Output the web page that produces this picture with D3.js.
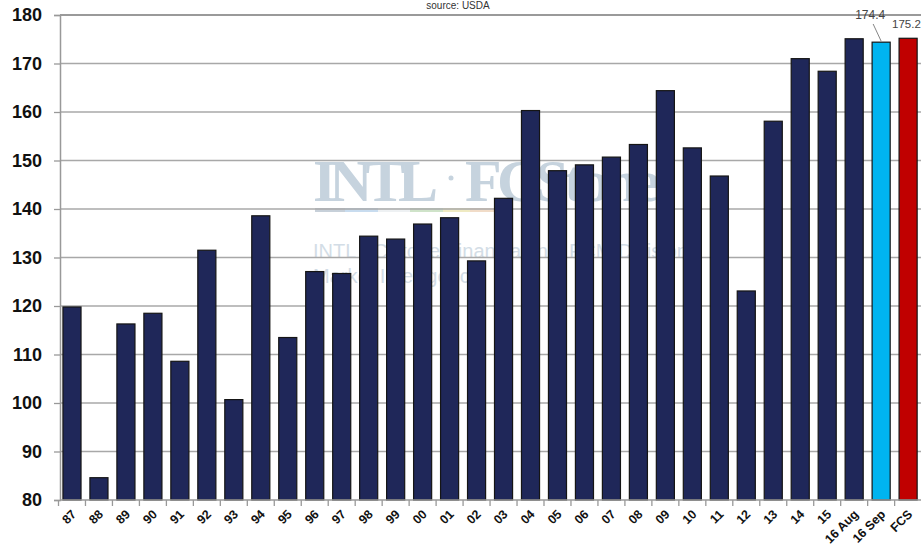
<!DOCTYPE html>
<html><head><meta charset="utf-8">
<script src="https://cdn.jsdelivr.net/npm/d3@7"></script>
<style>html,body{margin:0;padding:0;background:#fff;overflow:hidden}svg{display:block}</style>
</head><body>
<svg id="c" width="921" height="555"></svg>
<script>
const categories = ["87","88","89","90","91","92","93","94","95","96","97","98","99","00","01","02","03","04","05","06","07","08","09","10","11","12","13","14","15","16 Aug","16 Sep","FCS"];
const yields = [119.8,84.6,116.3,118.5,108.6,131.5,100.7,138.6,113.5,127.1,126.7,134.4,133.8,136.9,138.2,129.3,142.2,160.3,147.9,149.1,150.7,153.3,164.4,152.6,146.8,123.1,158.1,171.0,168.4,175.1,174.4,175.2];
const barColors = ["navy","navy","navy","navy","navy","navy","navy","navy","navy","navy","navy","navy","navy","navy","navy","navy","navy","navy","navy","navy","navy","navy","navy","navy","navy","navy","navy","navy","navy","navy","sky","red"];
const labelled = ["16 Sep","FCS"];
const yTicks = [80,90,100,110,120,130,140,150,160,170,180];

const colorMap = {navy:"#1f2759", sky:"#00b4f0", red:"#c00000"};
const svg = d3.select("#c");
const x = d3.scaleBand().domain(categories).range([58.5, 921.6]).paddingInner(0.33).paddingOuter(0.165);
const y = d3.scaleLinear().domain([80,180]).range([500,15]);

// title
svg.append("text").attr("x",458).attr("y",9).attr("text-anchor","middle")
  .attr("font-family","Liberation Sans, Arial, sans-serif").attr("font-size",10).attr("fill","#333").text("source: USDA");

// watermark
const wm = svg.append("g").attr("fill","#c6d3de");
wm.append("text").attr("x",313).attr("y",201).attr("font-family","Liberation Serif, Times New Roman, serif")
  .attr("font-size",60).attr("font-weight","bold").attr("textLength",125).text("INTL");
wm.append("circle").attr("cx",451).attr("cy",178).attr("r",2.5);
wm.append("text").attr("x",465).attr("y",201).attr("font-family","Liberation Serif, Times New Roman, serif")
  .attr("font-size",60).attr("font-weight","bold").attr("textLength",195).text("FCStone");
const segs = [["#c7d0d9",315,345],["#c8dcef",345,378],["#eef1f3",378,410],["#cfe3c9",410,443],["#efeac2",443,470],["#f1dcc8",470,500]];
segs.forEach(s=>wm.append("rect").attr("x",s[1]).attr("y",208).attr("width",s[2]-s[1]).attr("height",4).attr("fill",s[0]));
wm.append("text").attr("x",313).attr("y",258).attr("font-family","Liberation Sans, Arial, sans-serif")
  .attr("font-size",20).attr("fill","#d3dde6").text("INTL FCStone Financial Inc. FCM Division");
wm.append("text").attr("x",313).attr("y",283).attr("font-family","Liberation Sans, Arial, sans-serif")
  .attr("font-size",20).attr("fill","#d3dde6").text("Market Intelligence");

// gridlines
svg.append("g").selectAll("line").data(yTicks.filter(t=>t>80)).join("line")
  .attr("x1",60).attr("x2",921).attr("y1",d=>y(d)).attr("y2",d=>y(d))
  .attr("stroke",d=>d===180?"#9a9a9a":"#a8a8a8").attr("stroke-width",d=>d===180?2:1.3);

// y axis
const yAxis = d3.axisLeft(y).tickValues(yTicks).tickSize(6).tickPadding(12);
const ya = svg.append("g").attr("transform","translate(60,0)").call(yAxis);
ya.select(".domain").attr("stroke","#999").attr("stroke-width",1.5);
ya.selectAll(".tick line").attr("stroke","#999").attr("stroke-width",1.3);
ya.selectAll("text").attr("font-family","Liberation Sans, Arial, sans-serif").attr("font-weight","bold")
  .attr("font-size",18).attr("fill","#111");

// bars
svg.append("g").selectAll("rect").data(categories).join("rect")
  .attr("x",d=>x(d)).attr("width",x.bandwidth())
  .attr("y",(d,i)=>y(yields[i])).attr("height",(d,i)=>y(80)-y(yields[i]))
  .attr("fill",(d,i)=>colorMap[barColors[i]]).attr("stroke","#151515").attr("stroke-width",1.2);

// x axis
const gap = (x.step() - x.bandwidth())/2;
const xa = svg.append("g").attr("transform","translate(0,500)");
xa.append("line").attr("x1",60).attr("x2",921).attr("stroke","#999").attr("stroke-width",1.5);
xa.selectAll("line.t").data(categories).join("line").attr("class","t")
  .attr("x1",d=>x(d)-gap).attr("x2",d=>x(d)-gap).attr("y1",0).attr("y2",6)
  .attr("stroke","#999").attr("stroke-width",1.3);
xa.selectAll("text").data(categories).join("text")
  .attr("transform",d=>`translate(${x(d)+x.bandwidth()/2+5},15) rotate(-45)`)
  .attr("text-anchor","end").attr("font-family","Liberation Sans, Arial, sans-serif")
  .attr("font-weight","bold").attr("font-size",12.5).attr("fill","#111").text(d=>d);

// value labels
const lab = svg.append("g").attr("font-family","Liberation Sans, Arial, sans-serif").attr("font-size",12).attr("fill","#444");
const i1 = categories.indexOf(labelled[0]), i2 = categories.indexOf(labelled[1]);
lab.append("text").attr("x",x(labelled[0])+x.bandwidth()/2-11).attr("y",19).attr("text-anchor","middle").text(yields[i1].toFixed(1));
lab.append("line").attr("x1",x(labelled[0])+x.bandwidth()/2-8).attr("y1",24)
  .attr("x2",x(labelled[0])+x.bandwidth()/2).attr("y2",y(yields[i1])-1).attr("stroke","#666").attr("stroke-width",0.8);
lab.append("text").attr("x",x(labelled[1])-7).attr("y",28).attr("font-size",11.5).text(yields[i2].toFixed(1));
</script>
</body></html>
